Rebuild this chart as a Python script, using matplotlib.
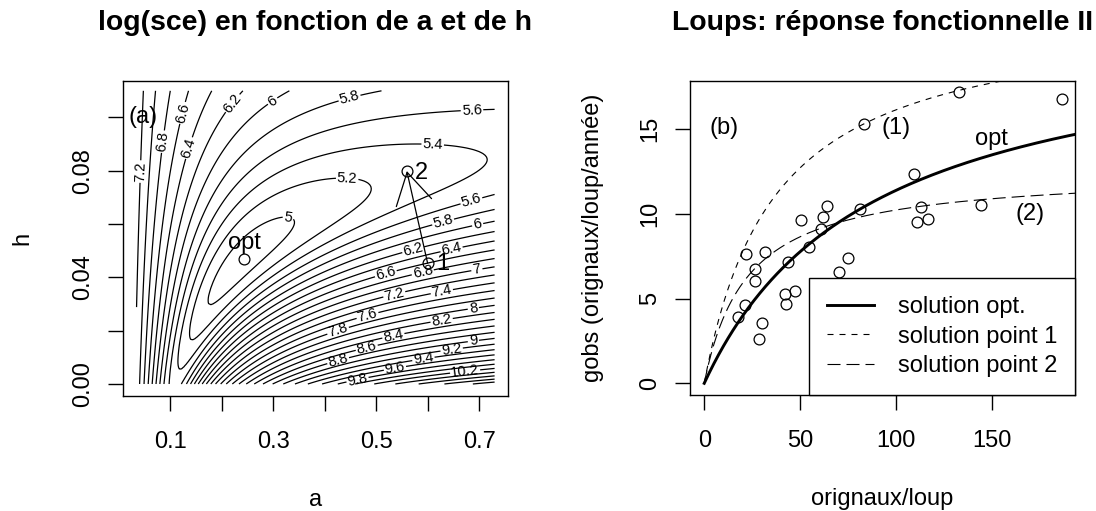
import numpy as np
import matplotlib
matplotlib.use('Agg')
import matplotlib.pyplot as plt

plt.rcParams['font.family'] = ['Liberation Sans', 'DejaVu Sans']

# wolves data: moose per wolf vs kill rate
N_obs = [133.0, 186.8, 83.6, 109.6, 63.8, 81.2, 113.1, 144.5, 62.1, 50.7,
         110.8, 116.7, 61.1, 54.6, 21.7, 31.7, 43.9, 74.9, 70.4, 26.7,
         26.4, 42.0, 47.3, 42.4, 21.5, 17.5, 30.0, 28.6]
g_obs = [17.18, 16.76, 15.31, 12.37, 10.47, 10.27, 10.43, 10.53, 9.82, 9.62,
         9.50, 9.72, 9.13, 8.05, 7.65, 7.75, 7.18, 7.38, 6.57, 6.73,
         6.06, 5.27, 5.47, 4.70, 4.62, 3.93, 3.56, 2.60]

# parameter points (a, h)
a_opt, h_opt = 0.2443, 0.0469
a_p1, h_p1 = 0.600, 0.0453
a_p2, h_p2 = 0.5596, 0.0799

# grid of the sse surface
a_min, a_max = 0.035, 0.73
h_min, h_max = 0.0, 0.11
levels = np.round(np.arange(4.8, 11.6, 0.2), 1)

N = np.array(N_obs)
g = np.array(g_obs)


def holling(a, h, n):
    return a * n / (1 + a * h * n)


aa = np.linspace(a_min, a_max, 160)
hh = np.linspace(h_min, h_max, 160)
A, H = np.meshgrid(aa, hh)
pred = holling(A[..., None], H[..., None], N[None, None, :])
sce = np.log(((g - pred) ** 2).sum(axis=-1))

fig = plt.figure(figsize=(10.96, 5.11), dpi=100)
ax1 = fig.add_axes([0.1120, 0.2256, 0.3515, 0.6165])
ax2 = fig.add_axes([0.6296, 0.2270, 0.3512, 0.6151])

fs = 17

for ax in (ax1, ax2):
    for s in ax.spines.values():
        s.set_linewidth(1.0)
    ax.tick_params(length=10.5, width=1.0, labelsize=fs, pad=15)
    ax.tick_params(axis='y', pad=10)

# ---- left panel: contour ----
cs = ax1.contour(A, H, sce, levels=levels, colors='black', linewidths=0.9)
lab_pos = [(0.0437, 0.0797), (0.087, 0.0909), (0.1227, 0.1018), (0.1388, 0.0884),
           (0.2217, 0.1053), (0.2975, 0.1066), (0.448, 0.1076), (0.686, 0.1031),
           (0.610, 0.0906), (0.444, 0.0776), (0.3297, 0.0628), (0.686, 0.068),
           (0.6307, 0.0603), (0.6975, 0.0594), (0.5725, 0.050), (0.647, 0.050),
           (0.519, 0.0413), (0.5907, 0.0418), (0.6955, 0.043), (0.5356, 0.0334),
           (0.6276, 0.0346), (0.483, 0.0259), (0.4268, 0.0196), (0.689, 0.028),
           (0.6276, 0.0234), (0.5336, 0.018), (0.482, 0.0134), (0.4268, 0.0084),
           (0.689, 0.0159), (0.647, 0.0124), (0.5919, 0.0093), (0.5369, 0.0055),
           (0.4645, 0.0011), (0.6728, 0.0046)]
ax1.clabel(cs, manual=lab_pos, inline=True, inline_spacing=2, fontsize=10.5,
           fmt=lambda v: f'{round(v, 1):g}')

ax1.plot([a_opt, a_p1, a_p2], [h_opt, h_p1, h_p2], 'o', mfc='none', mec='black',
         ms=7.8, mew=0.9)
ax1.annotate('', xy=(a_p2, h_p2), xytext=(a_p1, h_p1),
             arrowprops=dict(arrowstyle='->,head_length=22.4,head_width=13',
                             mutation_scale=1, shrinkA=0, shrinkB=0,
                             color='black', lw=0.9))
ax1.text(a_opt, 0.0530, 'opt', fontsize=fs, ha='center', va='center')
ax1.text(0.5887, 0.0791, '2', fontsize=fs, ha='center', va='center')
ax1.text(0.6295, 0.0450, '1', fontsize=fs, ha='center', va='center')
ax1.text(0.0482, 0.1003, '(a)', fontsize=fs, ha='center', va='center')

ax1.set_xlim(0.0082, 0.756)
ax1.set_ylim(-0.0044, 0.1138)
ax1.set_xticks(np.round(np.arange(0.1, 0.71, 0.1), 1))
ax1.set_xticklabels(['0.1', '', '0.3', '', '0.5', '', '0.7'])
ax1.set_yticks(np.round(np.arange(0, 0.101, 0.02), 2))
ax1.set_yticklabels(['0.00', '', '0.04', '', '0.08', ''], rotation=90, va='center')
ax1.set_xlabel('a', fontsize=fs)
ax1.set_ylabel('h', fontsize=fs)
ax1.xaxis.set_label_coords(0.5, -0.331)
ax1.xaxis.label.set_va('center')
ax1.yaxis.set_label_coords(-0.261, 0.5)
ax1.yaxis.label.set_va('center')

# ---- right panel: functional response ----
Nc = np.linspace(0, 200, 400)
ax2.plot(N, g, 'o', mfc='none', mec='black', ms=7.8, mew=0.9, zorder=3)
l_opt, = ax2.plot(Nc, holling(a_opt, h_opt, Nc), color='black', lw=2.1)
l_p1, = ax2.plot(Nc, holling(a_p1, h_p1, Nc), color='black', lw=0.8,
                 linestyle=(0, (5.4, 5.4)))
l_p2, = ax2.plot(Nc, holling(a_p2, h_p2, Nc), color='black', lw=0.8,
                 linestyle=(0, (11.7, 5.4)))
ax2.text(10.25, 15.05, '(b)', fontsize=fs, ha='center', va='center')
ax2.text(100.3, 15.05, '(1)', fontsize=fs, ha='center', va='center')
ax2.text(170, 10.0, '(2)', fontsize=fs, ha='center', va='center')
ax2.text(150, 14.4, 'opt', fontsize=fs, ha='center', va='center')

leg = ax2.legend([l_opt, l_p1, l_p2],
                 ['solution opt.', 'solution point 1', 'solution point 2'],
                 loc='lower right', fontsize=fs, fancybox=False, framealpha=1,
                 edgecolor='black', borderaxespad=0, handlelength=2.0,
                 handletextpad=1.0, labelspacing=0.32, borderpad=0.75)
leg.get_frame().set_linewidth(1.0)
leg.set_zorder(5)

ax2.set_xlim(-7.4, 193.4)
ax2.set_ylim(-0.69, 17.86)
ax2.set_xticks([0, 50, 100, 150])
ax2.set_yticks([0, 5, 10, 15])
ax2.set_yticklabels(['0', '5', '10', '15'], rotation=90, va='center')
ax2.set_xlabel('orignaux/loup', fontsize=fs)
ax2.set_ylabel('gobs (orignaux/loup/année)', fontsize=fs)
ax2.xaxis.set_label_coords(0.5, -0.331)
ax2.xaxis.label.set_va('center')
ax2.yaxis.set_label_coords(-0.252, 0.5)
ax2.yaxis.label.set_va('center')

fig.text(315.3 / 1096, 1 - 23 / 511, 'log(sce) en fonction de a et de h',
         fontsize=20.4, fontweight='bold', ha='center', va='center')
fig.text(882.5 / 1096, 1 - 23 / 511, 'Loups: réponse fonctionnelle II',
         fontsize=20.4, fontweight='bold', ha='center', va='center')

fig.savefig('out.png', dpi=100)
